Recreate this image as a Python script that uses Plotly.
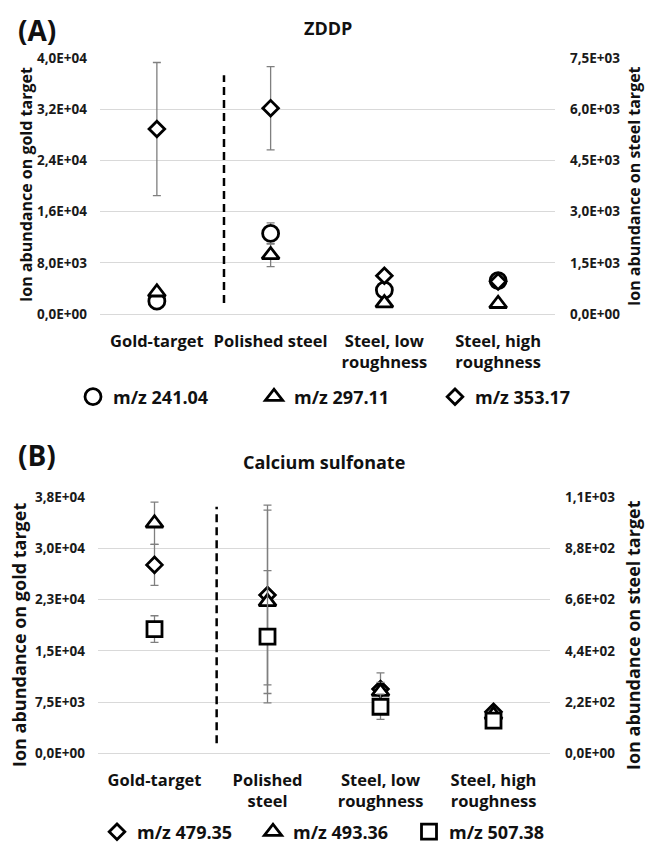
import plotly.graph_objects as go

# ---------------- data ----------------
cats_A = ["Gold-target", "Polished steel", "Steel, low<br>roughness", "Steel, high<br>roughness"]
cats_B = ["Gold-target", "Polished<br>steel", "Steel, low<br>roughness", "Steel, high<br>roughness"]

# Panel A (ZDDP): first value on gold target (left axis), rest on steel (right axis)
A_names = ["m/z 241.04", "m/z 297.11", "m/z 353.17"]
A_241 = [2000, 2360, 700, 980]
A_241_err = [300, 310, 350, 60]
A_297 = [3400, 1730, 320, 300]
A_297_err = [400, 340, 80, 60]
A_353 = [28900, 6030, 1120, 950]
A_353_err = [10400, 1220, 100, 80]

# Panel B (Calcium sulfonate)
B_names = ["m/z 479.35", "m/z 493.36", "m/z 507.38"]
B_479 = [27600, 680, 276, 178]
B_479_err = [3000, 386, 70, 15]
B_493 = [33700, 651, 265, 165]
B_493_err = [3100, 394, 40, 15]
B_507 = [18200, 501, 200, 140]
B_507_err = [1950, 284, 54, 15]

A_left_ticks = [0, 8000, 16000, 24000, 32000, 40000]
A_left_text = ["0,0E+00", "8,0E+03", "1,6E+04", "2,4E+04", "3,2E+04", "4,0E+04"]
A_right_ticks = [0, 1500, 3000, 4500, 6000, 7500]
A_right_text = ["0,0E+00", "1,5E+03", "3,0E+03", "4,5E+03", "6,0E+03", "7,5E+03"]
B_left_ticks = [0, 7500, 15000, 22500, 30000, 37500]
B_left_text = ["0,0E+00", "7,5E+03", "1,5E+04", "2,3E+04", "3,0E+04", "3,8E+04"]
B_right_ticks = [0, 220, 440, 660, 880, 1100]
B_right_text = ["0,0E+00", "2,2E+02", "4,4E+02", "6,6E+02", "8,8E+02", "1,1E+03"]

# ---------------- figure ----------------
W, H = 645, 845
FONT = "Open Sans"
fig = go.Figure()

marker_sizes = {"circle": 16, "triangle-up": 15, "diamond": 12, "square": 15}


def add_series(xcats, vals, errs, name, symbol, xa, yl, yr, legend):
    mk = dict(symbol=symbol, size=marker_sizes[symbol], color="white",
              line=dict(color="black", width=2.8))
    eb = dict(type="data", thickness=1.3, width=4, color="#7f7f7f")
    fig.add_trace(go.Scatter(x=xcats[:1], y=vals[:1], mode="markers", name=name,
                             marker=mk, error_y=dict(eb, array=errs[:1]),
                             xaxis=xa, yaxis=yl, legend=legend, showlegend=True))
    fig.add_trace(go.Scatter(x=xcats[1:], y=vals[1:], mode="markers", name=name,
                             marker=mk, error_y=dict(eb, array=errs[1:]),
                             xaxis=xa, yaxis=yr, showlegend=False))


add_series(cats_A, A_241, A_241_err, A_names[0], "circle", "x", "y", "y2", "legend")
add_series(cats_A, A_297, A_297_err, A_names[1], "triangle-up", "x", "y", "y2", "legend")
add_series(cats_A, A_353, A_353_err, A_names[2], "diamond", "x", "y", "y2", "legend")

add_series(cats_B, B_479, B_479_err, B_names[0], "diamond", "x2", "y3", "y4", "legend2")
add_series(cats_B, B_493, B_493_err, B_names[1], "triangle-up", "x2", "y3", "y4", "legend2")
add_series(cats_B, B_507, B_507_err, B_names[2], "square", "x2", "y3", "y4", "legend2")


def px_x(a, b):
    return [a / W, b / W]


def px_y(top, bottom):
    return [(H - bottom) / H, (H - top) / H]


tickfont = dict(family=FONT, size=13.5, color="#1a1a1a", weight="bold")
catfont = dict(family=FONT, size=16.5, color="#111", weight="bold")
grid = "#d9d9d9"

yA = px_y(58, 314)
yB = px_y(497.3, 753.3)

common_x = dict(type="category", range=[-0.5, 3.5], showgrid=False, showline=False,
                zeroline=False, ticks="", tickfont=catfont, ticklabelstandoff=15,
                automargin=False)
common_yl = dict(showgrid=True, gridcolor=grid, gridwidth=1, zeroline=True,
                 zerolinecolor=grid, zerolinewidth=1, showline=False, ticks="",
                 tickfont=tickfont, ticklabelstandoff=12, automargin=False)
common_yr = dict(side="right", showgrid=False, zeroline=False, showline=False,
                 ticks="", tickfont=tickfont, ticklabelstandoff=14, automargin=False)

fig.update_layout(
    width=W, height=H, margin=dict(l=0, r=0, t=0, b=0, autoexpand=False),
    paper_bgcolor="white", plot_bgcolor="white",
    font=dict(family=FONT, color="#111"),
    xaxis=dict(common_x, domain=px_x(100, 555), anchor="y",
               categoryorder="array", categoryarray=cats_A),
    yaxis=dict(common_yl, domain=yA, anchor="x", range=[0, 40000],
               tickvals=A_left_ticks, ticktext=A_left_text),
    yaxis2=dict(common_yr, overlaying="y", anchor="x", range=[0, 7500],
                tickvals=A_right_ticks, ticktext=A_right_text),
    xaxis2=dict(common_x, domain=px_x(98, 550), anchor="y3",
                categoryorder="array", categoryarray=cats_B),
    yaxis3=dict(common_yl, domain=yB, anchor="x2", range=[0, 37500],
                tickvals=B_left_ticks, ticktext=B_left_text),
    yaxis4=dict(common_yr, overlaying="y3", anchor="x2", range=[0, 1100],
                tickvals=B_right_ticks, ticktext=B_right_text),
    legend=dict(orientation="h", x=73 / W, xanchor="left", y=(H - 397) / H,
                yanchor="middle", entrywidth=136, entrywidthmode="pixels",
                itemwidth=30, bgcolor="rgba(0,0,0,0)",
                font=dict(family=FONT, size=18, weight="bold", color="#111")),
    legend2=dict(orientation="h", x=97 / W, xanchor="left", y=(H - 832) / H,
                 yanchor="middle", entrywidth=111, entrywidthmode="pixels",
                 itemwidth=30, bgcolor="rgba(0,0,0,0)",
                 font=dict(family=FONT, size=18, weight="bold", color="#111")),
    showlegend=True,
)

# dashed separators
fig.add_shape(type="line", xref="x", yref="y", x0=0.59, x1=0.59, y0=1700, y1=37300,
              line=dict(color="black", width=2.5, dash="8px,5px"))
fig.add_shape(type="line", xref="x2", yref="y3", x0=0.55, x1=0.55, y0=1465, y1=36120,
              line=dict(color="black", width=2.5, dash="8px,5px"))

ann = []


def text(x, y, s, size, angle=0):
    ann.append(dict(x=x / W, y=(H - y) / H, xref="paper", yref="paper", text=s,
                    showarrow=False, textangle=angle, xanchor="center", yanchor="middle",
                    font=dict(family=FONT, size=size, weight="bold", color="#111")))


text(37, 30, "(A)", 28)
text(37, 455, "(B)", 28)
text(328, 28, "ZDDP", 18)
text(324, 462, "Calcium sulfonate", 18)
text(26, 185, "Ion abundance on gold target", 16, -90)
text(634, 186, "Ion abundance on steel target", 16, -90)
text(19, 635, "Ion abundance on gold target", 18, -90)
text(633, 635, "Ion abundance on steel target", 18, -90)
fig.update_layout(annotations=ann)

fig.write_html("out.html", config={"displayModeBar": False},
               post_script="document.body.style.margin='0px';")
